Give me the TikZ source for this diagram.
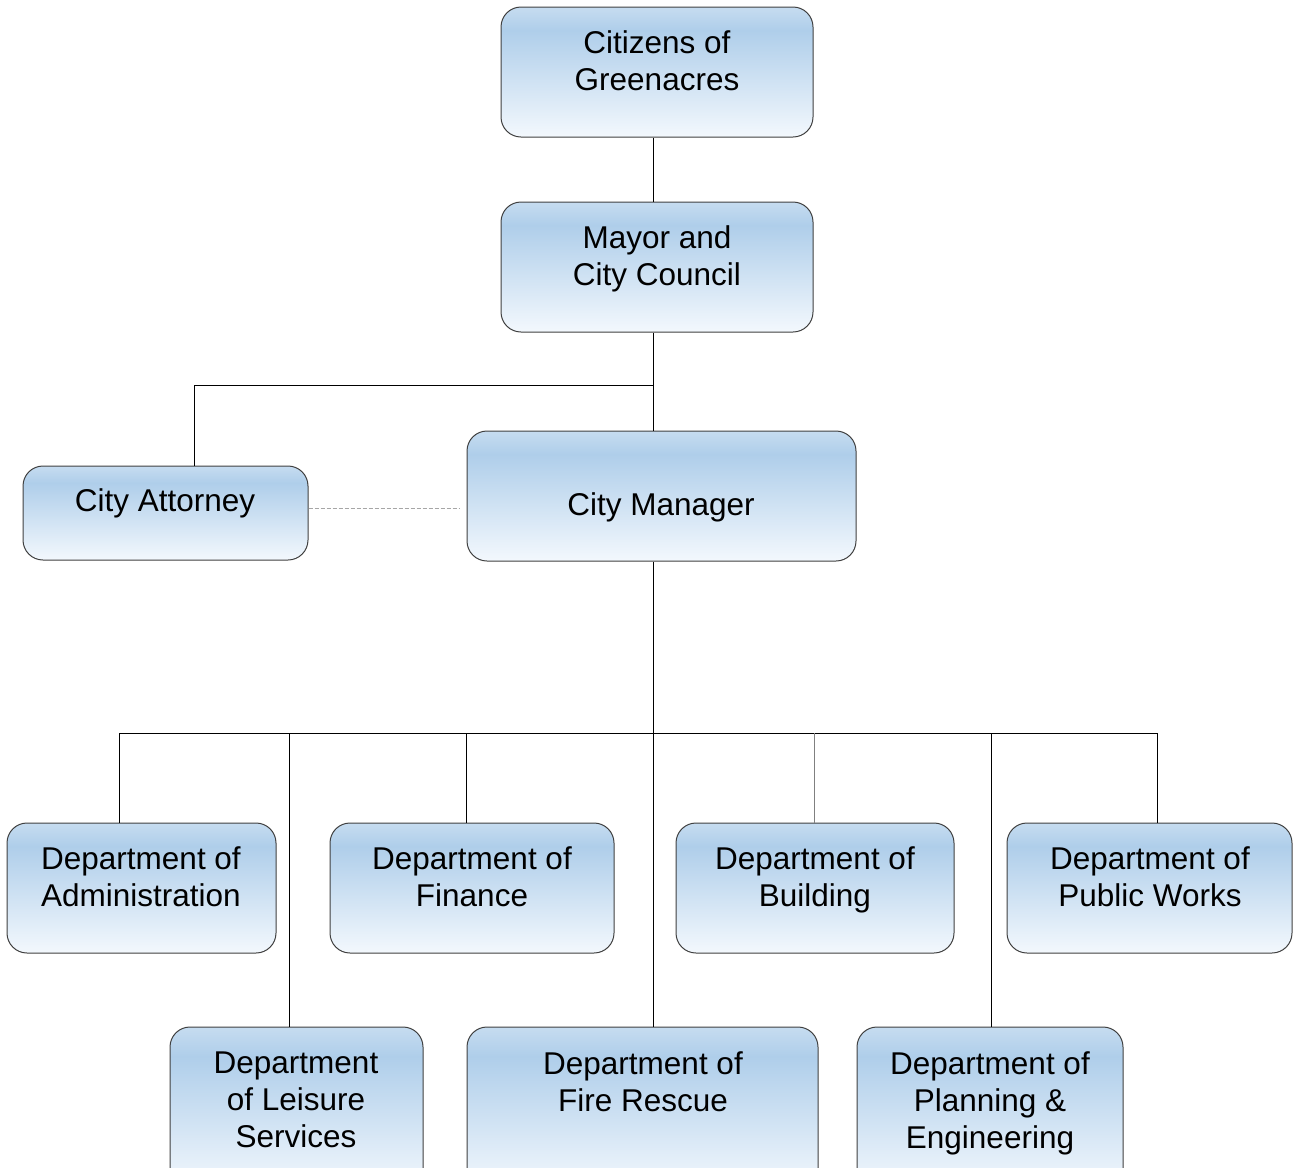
\documentclass[tikz,border=0pt]{standalone}
\usepackage{fontspec}
\setmainfont{Liberation Sans}
\usetikzlibrary{calc}
\definecolor{boxtop}{HTML}{C6DCF0}
\definecolor{boxpeak}{HTML}{AFCEEA}
\definecolor{boxlow}{HTML}{F3F8FD}
\definecolor{boxline}{HTML}{404040}
\pgfdeclareverticalshading{boxfill}{100bp}{color(0bp)=(boxlow); color(25bp)=(boxlow); color(66bp)=(boxpeak); color(75bp)=(boxtop); color(100bp)=(boxtop)}
\tikzset{
	unit/.style={draw=boxline, line width=1pt, rounded corners=20pt, shading=boxfill, minimum height=130pt, inner sep=0pt},
	txt/.style={align=center, inner sep=0pt, font=\fontsize{31.5pt}{37pt}\selectfont},
	link/.style={line width=1pt},
}

\begin{document}
\begin{tikzpicture}[x=1pt,y=-1pt]
				\useasboundingbox (0,0) rectangle (1294,1168);
				\coordinate (trunk) at (653,0);
				\coordinate (bus) at (653,733);
				\coordinate (dashend) at (460,508);
				
				% top of the chart
				\node[unit, minimum width=312pt] (citizens) at (657,72) {};
				\node[txt] (citizens-t) at (657,61) {Citizens of\\Greenacres};
				\node[unit, minimum width=312pt] (mayor) at (657,267) {};
				\node[txt] (mayor-t) at (657,258.5) {Mayor and\\City Council};
				\node[unit, minimum width=285pt, minimum height=94pt] (attorney) at (165.5,513) {};
				\node[txt] (attorney-t) at (165,503) {City Attorney};
				\node[unit, minimum width=389pt] (manager) at (661.5,496) {};
				\node[txt] (manager-t) at (661,507) {City Manager};
				
				% departments
				\node[unit, minimum width=269pt] (admin) at (141.5,888) {};
				\node[txt] (admin-t) at (141,876.5) {Department of\\Administration};
				\node[unit, minimum width=284pt] (finance) at (472,888) {};
				\node[txt] (finance-t) at (472,876.5) {Department of\\Finance};
				\node[unit, minimum width=278pt] (building) at (815,888) {};
				\node[txt] (building-t) at (815,879.5) {Department of\\Building};
				\node[unit, minimum width=285pt] (works) at (1149.5,888) {};
				\node[txt] (works-t) at (1150,876.5) {Department of\\Public Works};
				
				\node[unit, minimum width=253pt, minimum height=163pt] (leisure) at (296.5,1108.5) {};
				\node[txt] (leisure-t) at (296,1100) {Department\\of Leisure\\Services};
				\node[unit, minimum width=351pt, minimum height=163pt] (fire) at (642.5,1108.5) {};
				\node[txt] (fire-t) at (643,1081.5) {Department of\\Fire Rescue};
				\node[unit, minimum width=266pt, minimum height=163pt] (planning) at (990,1108.5) {};
				\node[txt] (planning-t) at (990,1103) {Department of\\Planning \&\\Engineering};
				
				% connectors
				\draw[link] (citizens.south -| trunk) -- (mayor.north -| trunk);
				\draw[link] (mayor.south -| trunk) -- (manager.north -| trunk);
				\draw[link] (653,385) -- (194,385) -- (194,0 |- attorney.north);
				\draw[gray!70, line width=0.8pt, dash pattern=on 4pt off 2pt] (attorney.east |- dashend) -- (dashend);
				\draw[link] (manager.south -| trunk) -- (fire.north -| trunk);
				\draw[link] (119,733) -- (1157,733);
				
				\foreach \n/\x/\c in {admin/119/black, finance/466/black, building/814/gray, works/1157/black, leisure/289/black, planning/991/black}{
					\draw[link, \c] (\x,733) -- (\x,0 |- \n.north);}
\end{tikzpicture}
\end{document}
